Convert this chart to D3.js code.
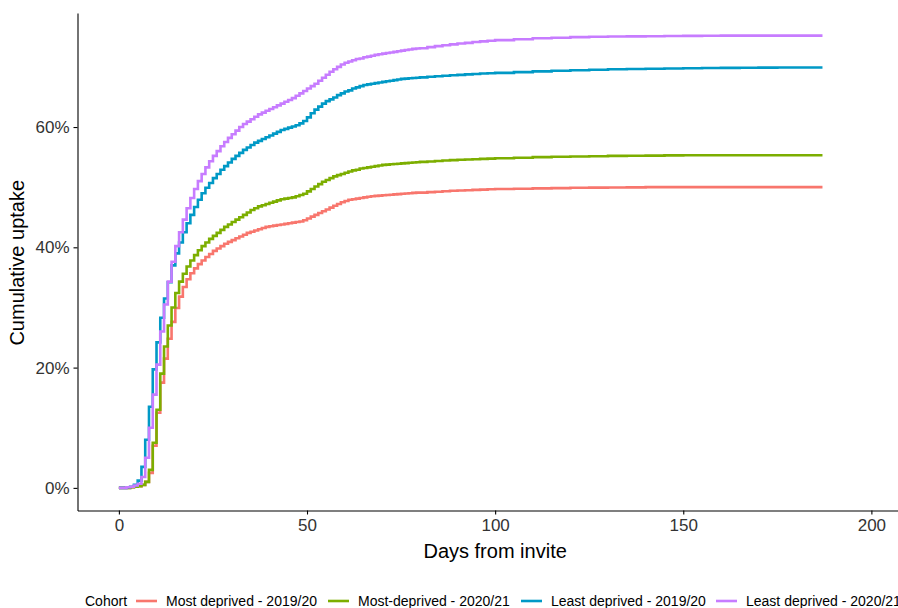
<!DOCTYPE html>
<html>
<head>
<meta charset="utf-8">
<script src="https://cdn.jsdelivr.net/npm/d3@7"></script>
<style>
  body { margin: 0; background: #fff; }
  svg { font-family: "Liberation Sans", Arial, sans-serif; }
  .axis path, .axis line { stroke: #000; stroke-width: 1.1px; }
  .axis text { fill: #333; font-size: 17px; }
  .line { fill: none; stroke-width: 2.6px; stroke-linejoin: miter; }
</style>
</head>
<body>
<svg class="uptake-graph"></svg>
<script>
// days from invite (daily early on, sparser once the curves flatten)
let days = [0,1,2,3,4,5,6,7,8,9,10,11,12,13,14,15,16,17,18,19,20,21,22,23,24,25,26,27,28,29,
  30,31,32,33,34,35,36,37,38,39,40,41,42,43,44,45,46,47,48,49,50,51,52,53,54,55,56,57,58,59,
  60,61,62,63,64,65,66,67,68,69,70,71,72,73,74,75,76,77,78,79,80,
  82,84,86,88,90,92,94,96,98,100,
  105,110,115,120,125,130,135,140,145,150,155,160,165,170,175,180,185,187];

// cumulative uptake, %
let mostDep1920 = [0,0,0,0.1,0.2,0.3,0.5,1.0,2.5,7.0,
  12.5,17.5,21.5,24.8,27.6,29.9,31.8,33.4,34.7,35.7,
  36.5,37.2,37.8,38.4,38.9,39.4,39.8,40.2,40.6,40.9,
  41.2,41.5,41.8,42.1,42.4,42.6,42.8,43.0,43.2,43.4,
  43.5,43.6,43.7,43.8,43.9,44.0,44.1,44.2,44.3,44.5,
  44.8,45.1,45.4,45.7,46.0,46.3,46.6,46.9,47.2,47.5,
  47.7,47.9,48.0,48.1,48.2,48.3,48.4,48.5,48.55,48.6,
  48.65,48.7,48.75,48.8,48.85,48.9,48.95,49.0,49.05,49.1,
  49.1,
  49.18,49.25,49.32,49.4,49.45,49.5,49.55,49.6,49.65,49.7,
  49.75,49.8,49.85,49.9,49.92,49.95,49.97,50.0,50.0,50.0,50.0,50.0,50.0,50.0,50.0,50.0,50.0,50.0];
let mostDep2021 = [0,0,0,0.1,0.2,0.3,0.5,1.0,3.0,7.5,
  13.0,19.0,23.5,27.0,30.0,32.4,34.3,35.6,36.8,37.8,
  38.7,39.5,40.2,40.8,41.4,41.9,42.4,42.9,43.4,43.8,
  44.2,44.6,45.0,45.4,45.8,46.2,46.5,46.8,47.0,47.2,
  47.4,47.6,47.8,48.0,48.1,48.2,48.3,48.5,48.7,48.9,
  49.3,49.7,50.1,50.5,50.9,51.2,51.5,51.8,52.0,52.2,
  52.4,52.6,52.8,52.9,53.1,53.2,53.3,53.4,53.5,53.6,
  53.7,53.75,53.8,53.85,53.9,53.95,54.0,54.05,54.1,54.15,
  54.2,
  54.28,54.35,54.43,54.5,54.55,54.6,54.65,54.7,54.75,54.8,
  54.9,55.0,55.05,55.1,55.15,55.2,55.22,55.25,55.28,55.3,55.3,55.3,55.3,55.3,55.3,55.3,55.3,55.3];
let leastDep1920 = [0,0,0.1,0.2,0.5,1.2,3.5,8.0,13.5,19.7,
  24.2,28.3,31.5,34.2,37.0,39.0,40.8,42.5,44.0,45.4,
  46.7,47.9,49.0,49.9,50.7,51.5,52.2,52.9,53.5,54.1,
  54.7,55.2,55.7,56.2,56.6,57.0,57.4,57.7,58.0,58.3,
  58.6,58.9,59.2,59.5,59.7,59.9,60.1,60.3,60.6,61.0,
  61.6,62.3,62.9,63.4,63.9,64.3,64.6,64.9,65.3,65.6,
  65.9,66.1,66.4,66.6,66.8,67.0,67.1,67.2,67.3,67.4,
  67.5,67.6,67.7,67.8,67.9,68.0,68.05,68.1,68.15,68.2,
  68.25,
  68.35,68.45,68.52,68.6,68.68,68.75,68.82,68.9,68.95,69.0,
  69.13,69.25,69.35,69.45,69.53,69.6,69.65,69.7,69.74,69.78,69.81,69.84,69.86,69.88,69.89,69.9,69.9,69.9];
let leastDep2021 = [0,0,0.1,0.2,0.4,0.7,1.8,5.0,10.0,15.5,
  20.5,26.0,30.5,34.3,37.6,40.2,42.5,44.6,46.5,48.2,
  49.7,51.0,52.2,53.3,54.3,55.2,56.0,56.8,57.5,58.2,
  58.8,59.4,60.0,60.5,60.9,61.3,61.7,62.1,62.4,62.7,
  63.0,63.3,63.6,63.9,64.2,64.5,64.8,65.2,65.6,66.0,
  66.4,66.8,67.2,67.7,68.2,68.7,69.2,69.6,70.0,70.4,
  70.7,70.9,71.1,71.3,71.4,71.6,71.7,71.85,72.0,72.1,
  72.2,72.3,72.4,72.5,72.6,72.7,72.8,72.9,73.0,73.05,
  73.1,
  73.28,73.45,73.6,73.75,73.88,74.0,74.13,74.25,74.35,74.45,
  74.6,74.75,74.85,74.95,75.0,75.05,75.08,75.1,75.13,75.15,75.18,75.2,75.2,75.2,75.2,75.2,75.2,75.2];

let cohorts = ["Most deprived - 2019/20", "Most-deprived - 2020/21",
  "Least deprived - 2019/20", "Least deprived - 2020/21"];
let colours = ["#F8766D", "#7CAE00", "#0099C6", "#C77CFF"];
let xTicks = [0, 50, 100, 150, 200];
let yTicks = [0, 20, 40, 60];

let series = [mostDep1920, mostDep2021, leastDep1920, leastDep2021];

let W = 898, H = 608;
let margin = {top: 13, left: 77.5, bottom: 97.5}
  , plotBottom = H - margin.bottom;

let svg = d3.select(".uptake-graph")
    .attr("width", W)
    .attr("height", H);

let xScale = d3.scaleLinear()
    .domain([-11, 209])
    .range([margin.left, margin.left + 220 * 3.7625]);
let yScale = d3.scaleLinear()
    .domain([-3.76, 78.96])
    .range([plotBottom, margin.top]);

// axes
svg.append("g")
    .attr("class", "x axis")
    .attr("transform", "translate(0," + plotBottom + ")")
    .call(d3.axisBottom(xScale).tickValues(xTicks).tickSize(4).tickPadding(4).tickSizeOuter(0));

svg.append("g")
    .attr("class", "y axis")
    .attr("transform", "translate(" + margin.left + ",0)")
    .call(d3.axisLeft(yScale).tickValues(yTicks).tickSize(4).tickPadding(4).tickSizeOuter(0)
      .tickFormat(function(d) { return d + "%"; }));

// axis titles
svg.append("text")
    .attr("x", (xScale(0) + xScale(200)) / 2)
    .attr("y", 558)
    .style("text-anchor", "middle")
    .style("font-size", "20px")
    .text("Days from invite");

svg.append("text")
    .attr("transform", "translate(24," + ((margin.top + plotBottom) / 2 + 1) + ") rotate(-90)")
    .style("text-anchor", "middle")
    .style("font-size", "20px")
    .text("Cumulative uptake");

// step lines
let line = d3.line()
    .x(function(d, i) { return xScale(days[i]); })
    .y(function(d) { return yScale(d); })
    .curve(d3.curveStepAfter);

svg.selectAll(".line")
    .data(series)
  .enter().append("path")
    .attr("class", "line")
    .attr("stroke", function(d, i) { return colours[i]; })
    .attr("d", line);

// legend along the bottom
let legend = svg.append("g")
    .attr("transform", "translate(0,601)")
    .style("font-size", "14px");

legend.append("text")
    .attr("x", 85)
    .attr("dy", "0.35em")
    .text("Cohort");

let keyX = [136, 328, 521, 716];
cohorts.forEach(function(c, i) {
  legend.append("line")
      .attr("x1", keyX[i]).attr("x2", keyX[i] + 21)
      .attr("stroke", colours[i])
      .attr("stroke-width", 2.6);
  legend.append("text")
      .attr("x", keyX[i] + 30)
      .attr("dy", "0.35em")
      .text(c);
});
</script>
</body>
</html>
